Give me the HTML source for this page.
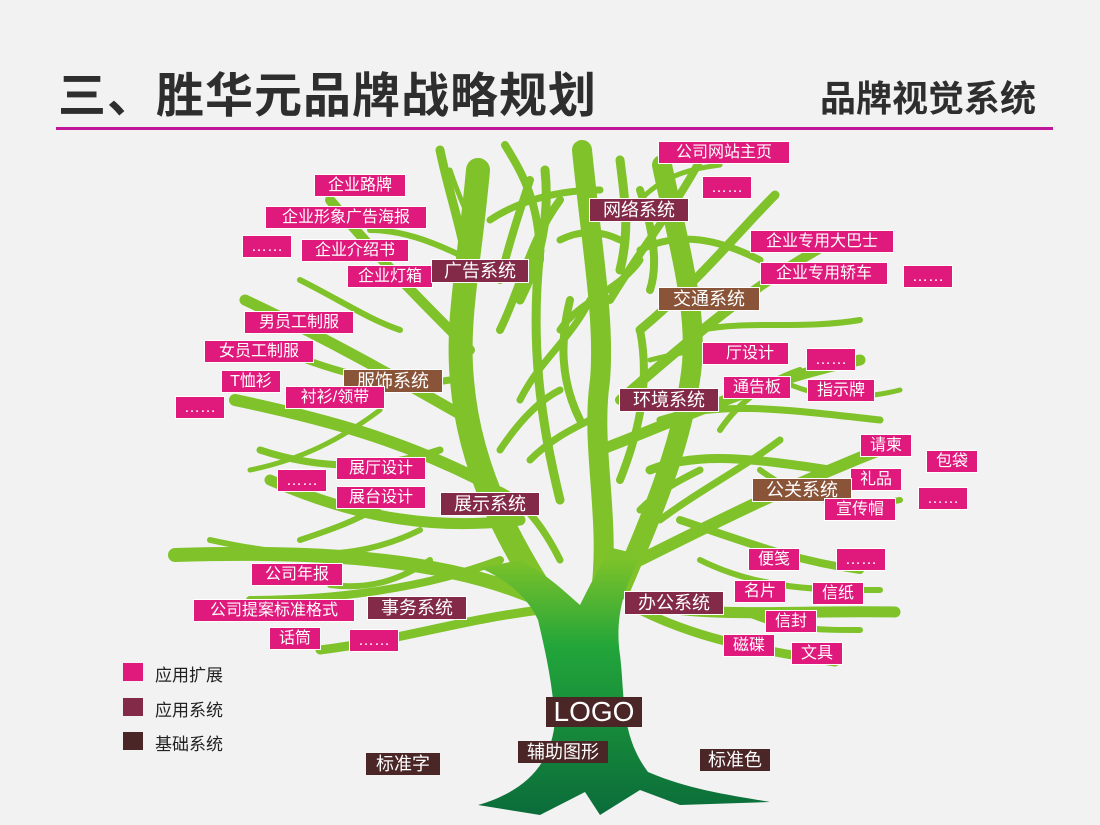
<!DOCTYPE html>
<html><head><meta charset="utf-8"><style>
body{margin:0;width:1100px;height:825px;background:#f2f2f2;position:relative;overflow:hidden;font-family:"Liberation Sans","Noto Sans CJK SC",sans-serif}
.t{position:absolute;left:58px;top:56px;font-size:48px;font-weight:bold;color:#2e2e2e;letter-spacing:1px}
.r{position:absolute;left:820px;top:70px;font-size:36px;font-weight:bold;color:#2e2e2e}
.line{position:absolute;left:56px;top:127px;width:997px;height:3px;background:#c0169a}
.l{position:absolute;height:21px;line-height:21px;font-size:16px;color:#fff;text-align:center;white-space:nowrap;box-shadow:0 0 0 1px #fff}
.p{background:#df1a7c}.m{background:#822a48;font-size:18px;height:22px;line-height:22px}.b{background:#8a5438;font-size:18px;height:22px;line-height:22px}.d{background:#4a2626;font-size:18px;height:22px;line-height:22px}
.lg{position:absolute;left:123px;width:20px;height:18px}
.lt{position:absolute;left:155px;font-size:17px;color:#222}
</style></head><body>
<svg width="1100" height="825" style="position:absolute;left:0;top:0">
<defs><linearGradient id="g" gradientUnits="userSpaceOnUse" x1="0" y1="560" x2="0" y2="810"><stop offset="0" stop-color="#7cc22a"/><stop offset="0.35" stop-color="#22a53a"/><stop offset="1" stop-color="#0b6e3a"/></linearGradient></defs>
<g fill="none" stroke="#7fc22a" stroke-linecap="round">
<path stroke-width="24" d="M560 620 C520 560 470 480 462 380 C456 320 470 260 478 170"/>
<path stroke-width="20" d="M600 600 C612 520 590 450 600 380 C605 320 592 250 582 150"/>
<path stroke-width="20" d="M620 590 C650 520 680 450 690 380 C700 320 682 260 662 165"/>
<path stroke-width="14" d="M540 600 C450 560 330 550 175 555"/>
<path stroke-width="12" d="M640 560 C720 520 800 480 905 440"/>
<path stroke-width="11" d="M630 600 C700 620 780 610 895 612"/>
<path stroke-width="12" d="M480 480 C400 440 330 420 235 400"/>
<path stroke-width="11" d="M470 420 C400 380 330 340 245 300"/>
<path stroke-width="10" d="M470 350 C420 300 380 260 330 200"/>
<path stroke-width="9" d="M470 300 C470 250 450 200 440 150"/>
<path stroke-width="11" d="M520 520 C440 530 360 520 270 480"/>
<path stroke-width="11" d="M600 450 C680 420 760 380 860 360"/>
<path stroke-width="10" d="M620 400 C700 330 760 280 835 240"/>
<path stroke-width="9" d="M640 330 C700 280 740 230 775 195"/>
<path stroke-width="8" d="M610 300 C640 250 680 200 700 160"/>
<path stroke-width="8" d="M540 260 C540 200 520 170 505 145"/>
<path stroke-width="9" d="M540 610 C460 620 400 640 320 650"/>
<path stroke-width="9" d="M640 610 C700 640 760 650 835 662"/>
<path stroke-width="9" d="M560 500 C540 420 530 340 540 250"/>
<path stroke-width="9" d="M650 470 C700 450 760 460 830 470"/>
<path stroke-width="8" d="M680 520 C740 540 790 560 860 570"/>
<path stroke-width="8" d="M500 560 C420 590 330 600 250 600"/>
<path stroke-width="7" d="M660 420 C720 400 790 410 880 420"/>
<path stroke-width="7" d="M440 450 C380 470 320 470 260 450"/>
<path stroke-width="7" d="M450 380 C390 390 330 370 280 350"/>
<path stroke-width="7" d="M490 220 C520 200 560 190 600 190"/>
<path stroke-width="7" d="M640 250 C680 230 720 240 760 260"/>
<path stroke-width="6" d="M700 330 C750 320 800 330 860 320"/>
<path stroke-width="6" d="M470 260 C430 240 400 230 370 230"/>
<path stroke-width="6" d="M700 560 C760 590 820 590 880 590"/>
<path stroke-width="6" d="M420 530 C360 560 300 560 210 540"/>
<path stroke-width="6" d="M760 470 C800 500 850 510 900 500"/>
<path stroke-width="7" d="M560 330 C580 300 620 290 640 260"/>
<path stroke-width="7" d="M520 400 C540 360 570 340 590 300"/>
<path stroke-width="5" d="M380 410 C340 440 300 460 250 470"/>
<path stroke-width="5" d="M780 380 C820 400 860 400 900 390"/>
<path stroke-width="5" d="M640 200 C660 180 680 170 720 165"/>
<path stroke-width="8" d="M500 330 C520 290 530 240 560 200"/>
<path stroke-width="8" d="M620 480 C640 430 650 380 640 330"/>
<path stroke-width="8" d="M580 420 C560 380 560 340 570 300"/>
<path stroke-width="7" d="M500 450 C520 420 540 400 560 390"/>
<path stroke-width="7" d="M660 520 C700 490 740 470 780 440"/>
<path stroke-width="6" d="M720 430 C740 400 770 380 800 370"/>
<path stroke-width="6" d="M390 500 C360 520 330 530 300 540"/>
<path stroke-width="6" d="M400 330 C370 320 340 300 300 280"/>
<path stroke-width="6" d="M430 560 C400 580 370 590 330 585"/>
<path stroke-width="6" d="M740 610 C780 630 820 630 860 630"/>
<path stroke-width="5" d="M650 360 C690 350 720 345 760 350"/>
<path stroke-width="5" d="M450 170 C460 200 470 220 480 240"/>
<path stroke-width="9" d="M520 300 C540 260 550 220 545 170"/>
<path stroke-width="9" d="M620 270 C630 230 625 200 620 160"/>
<path stroke-width="8" d="M500 280 C510 240 520 210 530 180"/>
<path stroke-width="8" d="M650 290 C660 260 650 220 640 190"/>
<path stroke-width="7" d="M560 240 C580 230 600 230 620 240"/>
<path stroke-width="7" d="M530 460 C550 440 570 430 590 420"/>
<path stroke-width="7" d="M560 560 C540 520 520 500 500 490"/>
<path stroke-width="7" d="M640 510 C660 490 680 480 700 470"/>
</g>
<path fill="url(#g)" d="M478 805 C530 790 552 760 555 720 C552 680 545 650 538 620 C528 598 508 580 480 568 L520 560 C548 575 565 592 580 605 C590 585 600 565 612 548 L642 555 C622 588 615 622 620 655 C625 695 620 735 648 772 C690 790 730 795 770 802 L680 805 L640 790 L600 815 L585 792 L540 815 Z"/>
</svg>
<div class="t">三、胜华元品牌战略规划</div>
<div class="r">品牌视觉系统</div>
<div class="line"></div>
<div class="l p" style="left:659px;top:142px;width:130px">公司网站主页</div>
<div class="l p" style="left:703px;top:177px;width:48px">……</div>
<div class="l p" style="left:315px;top:175px;width:90px">企业路牌</div>
<div class="l m" style="left:590px;top:199px;width:98px">网络系统</div>
<div class="l p" style="left:266px;top:207px;width:160px">企业形象广告海报</div>
<div class="l p" style="left:243px;top:236px;width:48px">……</div>
<div class="l p" style="left:302px;top:240px;width:106px">企业介绍书</div>
<div class="l p" style="left:348px;top:266px;width:84px">企业灯箱</div>
<div class="l m" style="left:432px;top:260px;width:96px">广告系统</div>
<div class="l p" style="left:751px;top:231px;width:142px">企业专用大巴士</div>
<div class="l p" style="left:761px;top:263px;width:126px">企业专用轿车</div>
<div class="l p" style="left:904px;top:266px;width:48px">……</div>
<div class="l b" style="left:659px;top:288px;width:100px">交通系统</div>
<div class="l p" style="left:245px;top:312px;width:108px">男员工制服</div>
<div class="l p" style="left:205px;top:341px;width:108px">女员工制服</div>
<div class="l p" style="left:703px;top:343px;width:85px">&nbsp;&nbsp;厅设计</div>
<div class="l p" style="left:807px;top:349px;width:48px">……</div>
<div class="l p" style="left:222px;top:371px;width:58px">T恤衫</div>
<div class="l b" style="left:344px;top:370px;width:98px">服饰系统</div>
<div class="l p" style="left:286px;top:387px;width:98px">衬衫/领带</div>
<div class="l p" style="left:724px;top:377px;width:66px">通告板</div>
<div class="l p" style="left:808px;top:380px;width:66px">指示牌</div>
<div class="l m" style="left:620px;top:389px;width:98px">环境系统</div>
<div class="l p" style="left:176px;top:397px;width:48px">……</div>
<div class="l p" style="left:861px;top:435px;width:50px">请柬</div>
<div class="l p" style="left:927px;top:451px;width:50px">包袋</div>
<div class="l p" style="left:337px;top:458px;width:88px">展厅设计</div>
<div class="l p" style="left:278px;top:470px;width:48px">……</div>
<div class="l p" style="left:851px;top:469px;width:50px">礼品</div>
<div class="l b" style="left:753px;top:479px;width:98px">公关系统</div>
<div class="l p" style="left:337px;top:487px;width:88px">展台设计</div>
<div class="l p" style="left:919px;top:488px;width:48px">……</div>
<div class="l m" style="left:441px;top:493px;width:98px">展示系统</div>
<div class="l p" style="left:825px;top:499px;width:70px">宣传帽</div>
<div class="l p" style="left:749px;top:549px;width:50px">便笺</div>
<div class="l p" style="left:837px;top:549px;width:48px">……</div>
<div class="l p" style="left:252px;top:564px;width:90px">公司年报</div>
<div class="l p" style="left:735px;top:581px;width:50px">名片</div>
<div class="l p" style="left:813px;top:583px;width:50px">信纸</div>
<div class="l m" style="left:625px;top:592px;width:98px">办公系统</div>
<div class="l p" style="left:194px;top:600px;width:160px">公司提案标准格式</div>
<div class="l m" style="left:368px;top:597px;width:98px">事务系统</div>
<div class="l p" style="left:766px;top:611px;width:50px">信封</div>
<div class="l p" style="left:270px;top:628px;width:50px">话筒</div>
<div class="l p" style="left:350px;top:630px;width:48px">……</div>
<div class="l p" style="left:724px;top:635px;width:50px">磁碟</div>
<div class="l p" style="left:792px;top:643px;width:50px">文具</div>
<div class="l d" style="left:546px;top:697px;width:96px;height:30px;line-height:30px;font-size:28px;box-shadow:none">LOGO</div>
<div class="l d" style="left:518px;top:741px;width:90px;box-shadow:none">辅助图形</div>
<div class="l d" style="left:700px;top:749px;width:70px;box-shadow:none">标准色</div>
<div class="l d" style="left:366px;top:753px;width:74px;box-shadow:none">标准字</div>
<div class="lg" style="top:663px;background:#df1a7c"></div><div class="lt" style="top:661px">应用扩展</div>
<div class="lg" style="top:698px;background:#822a48"></div><div class="lt" style="top:696px">应用系统</div>
<div class="lg" style="top:732px;background:#4a2626"></div><div class="lt" style="top:730px">基础系统</div>
</body></html>
